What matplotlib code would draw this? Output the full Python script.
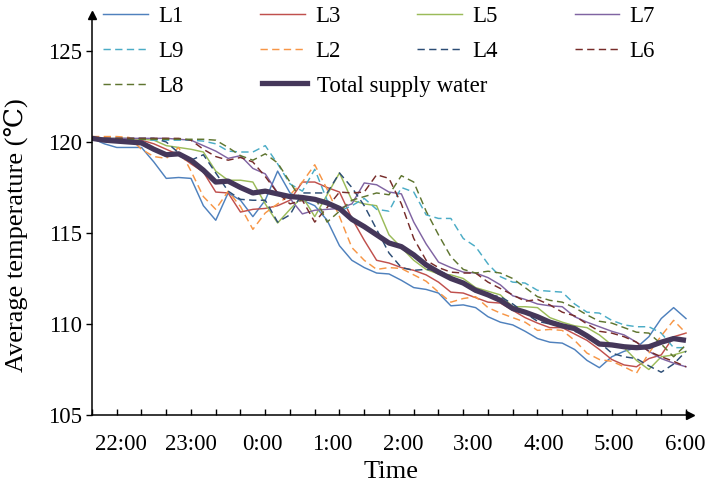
import numpy as np
import matplotlib
matplotlib.use("Agg")
import matplotlib.pyplot as plt
from matplotlib.lines import Line2D

plt.rcParams["font.family"] = ["Liberation Serif", "DejaVu Serif"]

# ---------------------------------------------------------------------------
# data: average temperature per loop, sampled every 10 min from 22:00 to 6:00
# ---------------------------------------------------------------------------
STEP_MIN = 10
TIME_LABELS = ["22:00", "23:00", "0:00", "1:00", "2:00", "3:00", "4:00", "5:00", "6:00"]

L1 = [120.2, 119.9, 119.7, 119.7, 119.7, 118.9, 118.0, 118.05, 118.0, 116.5,
      115.7, 117.2, 116.8, 115.9, 116.8, 118.4, 117.2, 116.8, 116.5, 115.7,
      114.3, 113.5, 113.1, 112.8, 112.75, 112.4, 112.0, 111.9, 111.7, 111.0,
      111.05, 110.9, 110.4, 110.1, 109.95, 109.6, 109.2, 109.0, 108.95, 108.6,
      108.0, 107.6, 108.2, 108.5, 108.7, 109.3, 110.3, 110.9, 110.3]
L3 = [120.2, 120.2, 120.15, 120.1, 120.1, 119.9, 119.6, 119.3, 118.8, 118.35,
      117.25, 117.2, 116.15, 116.3, 116.35, 116.5, 116.8, 117.8, 117.8, 117.5,
      117.25, 115.8, 114.6, 113.5, 113.35, 113.1, 112.95, 112.7, 112.3, 111.75,
      111.7, 111.45, 111.2, 111.15, 110.75, 110.35, 110.05, 109.8, 109.8, 109.45,
      109.1, 108.6, 108.05, 107.75, 107.65, 108.1, 108.3, 109.3, 109.5]
L5 = [120.2, 120.2, 120.2, 120.2, 120.15, 120.1, 119.8, 119.7, 119.6, 119.45,
      118.4, 117.9, 117.9, 117.8, 116.6, 115.55, 116.3, 117.0, 115.9, 117.1,
      118.3, 116.8, 116.6, 116.5, 114.9, 114.2, 113.5, 113.0, 112.75, 112.7,
      112.5, 112.0, 111.8, 111.6, 110.95, 110.95, 110.9, 110.35, 110.1, 109.9,
      109.8, 109.4, 108.85, 108.7, 108.0, 107.5, 108.2, 108.3, 108.5]
L7 = [120.2, 120.2, 120.2, 120.2, 120.2, 120.2, 120.2, 120.15, 120.1, 119.8,
      119.5, 119.1, 119.25, 118.55, 118.25, 117.2, 116.9, 116.05, 116.25, 116.3,
      116.35, 116.6, 117.75, 117.65, 117.25, 117.15, 115.6, 114.4, 113.4, 113.1,
      112.85, 112.8, 112.55, 112.15, 111.55, 111.35, 111.1, 111.0, 110.95, 110.4,
      110.1, 109.85, 109.6, 109.4, 109.0, 108.5, 108.1, 107.85, 107.65]
L9 = [120.15, 120.15, 120.15, 120.15, 120.15, 120.1, 120.1, 120.1, 120.1, 120.05,
      119.9, 119.5, 119.45, 119.45, 119.8, 118.8, 117.7, 117.3, 118.5, 116.8,
      116.2, 116.5, 116.9, 116.3, 116.2, 117.5, 117.25, 116.0, 115.8, 115.8,
      114.7, 114.25, 113.3, 112.6, 112.3, 112.25, 111.85, 111.8, 111.75, 111.1,
      110.65, 110.6, 110.2, 109.95, 109.85, 109.85, 109.5, 108.7, 108.7]
L2 = [120.3, 120.3, 120.3, 120.25, 119.6, 119.2, 119.1, 119.7, 118.4, 117.0,
      116.3, 117.3, 116.45, 115.2, 116.1, 116.6, 117.1, 117.8, 118.75, 117.4,
      115.9, 114.2, 113.5, 113.0, 113.1, 113.05, 112.7, 112.35, 111.75, 111.2,
      111.4, 111.5, 110.9, 110.6, 110.35, 110.1, 109.65, 109.7, 109.65, 109.1,
      108.4, 108.05, 107.95, 107.65, 107.3, 108.4, 109.35, 110.2, 109.5]
L4 = [120.2, 120.2, 120.2, 120.2, 120.2, 120.2, 120.0, 119.4, 119.0, 119.3,
      118.3, 117.3, 116.85, 116.8, 116.8, 115.6, 116.0, 117.2, 117.2, 117.2,
      118.3, 117.5, 116.5, 115.2, 113.9, 113.1, 112.95, 113.0, 112.95, 112.6,
      112.2, 111.75, 111.6, 111.5, 111.1, 110.6, 110.15, 110.0, 109.9, 109.6,
      109.35, 109.0, 108.4, 108.2, 108.1, 107.7, 107.35, 107.8, 108.5]
L6 = [120.2, 120.2, 120.2, 120.2, 120.2, 120.2, 120.2, 120.2, 120.1, 119.6,
      119.2, 119.0, 119.15, 118.9, 118.1, 117.2, 116.6, 116.8, 115.6, 116.4,
      117.25, 117.2, 117.25, 118.2, 118.0, 116.6, 114.7, 113.5, 113.1, 112.85,
      112.8, 112.8, 112.3, 111.95, 111.6, 111.25, 111.35, 111.05, 110.65, 110.45,
      110.0, 109.6, 109.5, 109.3, 109.0, 108.5, 108.2, 107.95, 107.65]
L8 = [120.15, 120.15, 120.15, 120.15, 120.15, 120.15, 120.15, 120.15, 120.15, 120.15,
      120.1, 119.7, 119.25, 119.0, 119.35, 118.85, 117.8, 116.7, 117.0, 115.6,
      116.2, 116.8, 117.0, 117.2, 117.1, 118.15, 117.8, 116.2, 114.9, 113.7,
      113.0, 112.8, 112.9, 112.8, 112.5, 112.0, 111.5, 111.3, 111.2, 110.9,
      110.5, 110.15, 110.05, 109.8, 109.55, 109.5, 108.9, 108.2, 108.85]
TOTAL = [120.2, 120.1, 120.05, 120.0, 119.95, 119.6, 119.3, 119.35, 119.0, 118.45,
         117.8, 117.85, 117.5, 117.2, 117.3, 117.15, 117.0, 116.95, 116.85, 116.65,
         116.35, 115.75, 115.35, 114.9, 114.45, 114.25, 113.8, 113.25, 112.85, 112.5,
         112.25, 111.85, 111.6, 111.3, 110.85, 110.65, 110.4, 110.1, 109.9, 109.75,
         109.35, 108.9, 108.85, 108.75, 108.7, 108.75, 109.0, 109.2, 109.1]

SERIES = [
    # name, values, colour, dashed
    ("L1", L1, "#4F81BD", False),
    ("L3", L3, "#C0504D", False),
    ("L5", L5, "#9BBB59", False),
    ("L7", L7, "#8064A2", False),
    ("L9", L9, "#4BACC6", True),
    ("L2", L2, "#F79646", True),
    ("L4", L4, "#2C4D75", True),
    ("L6", L6, "#772C2A", True),
    ("L8", L8, "#5F7530", True),
]
TOTAL_COLOR = "#45375A"

minutes = np.arange(len(TOTAL)) * STEP_MIN

fig = plt.figure(figsize=(7.08, 4.88), dpi=100)
ax = fig.add_axes([92 / 708, 73 / 488, (689.7 - 92) / 708, (415 - 14.6) / 488])

handles = {}
for name, vals, col, dashed in SERIES:
    ls = (0, (5, 3)) if dashed else "-"
    (ln,) = ax.plot(minutes, vals, color=col, lw=1.05, ls=ls)
    handles[name] = ln
(tot,) = ax.plot(minutes, TOTAL, color=TOTAL_COLOR, lw=3.8, solid_capstyle="butt")

ax.set_xlim(0, 483)
ax.set_ylim(105, 127)

# axes look: only left/bottom, arrows at the ends
for s in ("top", "right"):
    ax.spines[s].set_visible(False)
for s in ("left", "bottom"):
    ax.spines[s].set_linewidth(1.1)
ax.plot(1, 105, ">", color="black", ms=6, transform=ax.get_yaxis_transform(), clip_on=False)
ax.plot(0, 1, "^", color="black", ms=6, transform=ax.get_xaxis_transform(), clip_on=False)

ax.set_yticks([105, 110, 115, 120, 125])
ax.tick_params(axis="y", direction="out", length=4.5, width=1.0, labelsize=16.5, pad=3)

label_pos = np.linspace(23.4, 479, len(TIME_LABELS))
ax.set_xticks(label_pos)
ax.set_xticklabels(TIME_LABELS)
ax.set_xticks(np.arange(0, 481, 20), minor=True)
ax.tick_params(axis="x", which="major", length=0, labelsize=16.5, pad=14)
ax.tick_params(axis="x", which="minor", direction="in", length=4.5, width=1.0)

ax.set_xlabel("Time", fontsize=19, labelpad=4)
ax.set_ylabel("Average temperature (\u2103)", fontsize=19)
ax.yaxis.set_label_coords(-0.107, 0.45)

# legend: 4 columns for the loops, the total goes separately under L3
order = ["L1", "L9", "L8", "L3", "L2", "L5", "L4", "L7", "L6"]
leg = ax.legend([handles[n] for n in order], order, ncol=4, frameon=False,
                fontsize=16.5, handlelength=1.95, handletextpad=0.45,
                columnspacing=3.35, labelspacing=0.6, borderaxespad=0, borderpad=0,
                loc="upper left", bbox_to_anchor=(103 / 708, 1 - 6 / 488),
                bbox_transform=fig.transFigure)
ax.add_artist(leg)
tot_handle = Line2D([], [], color=TOTAL_COLOR, lw=3.8)
ax.legend([tot_handle], ["Total supply water"], frameon=False, fontsize=16.5,
          handlelength=1.95, handletextpad=0.45, borderaxespad=0, borderpad=0,
          loc="center left", bbox_to_anchor=(262 / 708, 1 - 86 / 488),
          bbox_transform=fig.transFigure)

fig.savefig("out.png", dpi=100)
